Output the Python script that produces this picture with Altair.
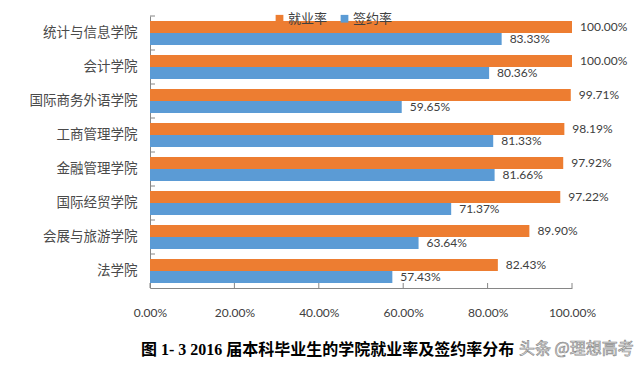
import altair as alt
import pandas as pd

colleges = ["统计与信息学院", "会计学院", "国际商务外语学院", "工商管理学院",
            "金融管理学院", "国际经贸学院", "会展与旅游学院", "法学院"]
series_names = ["就业率", "签约率"]
employment = [100.00, 100.00, 99.71, 98.19, 97.92, 97.22, 89.90, 82.43]
contract = [83.33, 80.36, 59.65, 81.33, 81.66, 71.37, 63.64, 57.43]
x_ticks = [0, 20, 40, 60, 80, 100]
colors = ["#ED7D31", "#5B9BD5"]
title_text = "图 1- 3 2016 届本科毕业生的学院就业率及签约率分布"
watermark_text = "头条 @理想高考"

rows = []
for c, e, s in zip(colleges, employment, contract):
    rows.append({"college": c, "series": series_names[0], "value": e})
    rows.append({"college": c, "series": series_names[1], "value": s})
df = pd.DataFrame(rows)
df["label"] = df["value"].map(lambda v: f"{v:.2f}%")

W, H = 422, 272
num_font = "Lato"
cjk_font = "Noto Sans CJK SC"

yscale = alt.Scale(domain=colleges, paddingInner=0, paddingOuter=0)
yoff = alt.YOffset("series:N", sort=series_names,
                   scale=alt.Scale(domain=series_names, paddingInner=0, paddingOuter=0.4167))

base = alt.Chart(df)

bars = base.mark_bar().encode(
    x=alt.X("value:Q", scale=alt.Scale(domain=[0, 100], nice=False),
            axis=alt.Axis(values=x_ticks, title=None, grid=False, ticks=False,
                          domainColor="#868686", labelPadding=19, labelFlush=False,
                          labelFont=num_font, labelFontSize=12, labelColor="#404040",
                          labelExpr="format(datum.value, '.2f') + '%'")),
    y=alt.Y("college:N", sort=colleges, scale=yscale,
            axis=alt.Axis(title=None, ticks=False, domainColor="#868686",
                          labelPadding=13, labelFont=cjk_font, labelFontSize=13.5,
                          labelColor="#4a4a4a")),
    yOffset=yoff,
    color=alt.Color("series:N", sort=series_names,
                    scale=alt.Scale(domain=series_names, range=colors),
                    legend=alt.Legend(title=None, orient="none", direction="horizontal",
                                      legendX=123, legendY=-4, symbolType="square",
                                      symbolSize=60, symbolStrokeWidth=0,
                                      labelFont=cjk_font, labelFontSize=13,
                                      labelColor="#404040", columnPadding=10,
                                      labelOffset=2)),
)

labels = base.mark_text(align="left", baseline="middle", dx=8,
                        font=num_font, fontSize=12, color="#404040").encode(
    x="value:Q",
    y=alt.Y("college:N", sort=colleges),
    yOffset=yoff,
    text="label:N",
)

ytick_df = pd.DataFrame({"college": colleges})
yticks = alt.Chart(ytick_df).mark_rule(color="#868686").encode(
    y=alt.Y("college:N", sort=colleges, bandPosition=0),
    x=alt.value(0), x2=alt.value(5),
)

xtick_df = pd.DataFrame({"t": x_ticks})
xticks = alt.Chart(xtick_df).mark_rule(color="#868686").encode(
    x="t:Q",
    y=alt.value(H - 5), y2=alt.value(H),
)

title = alt.Chart(pd.DataFrame({"t": [title_text]})).mark_text(
    align="left", baseline="middle", font="Liberation Serif, Noto Sans CJK SC",
    fontSize=16, fontWeight="bold", color="#000000"
).encode(text="t:N", x=alt.value(-9), y=alt.value(334))

watermark = alt.Chart(pd.DataFrame({"w": [watermark_text]})).mark_text(
    align="left", baseline="middle", font=cjk_font, fontSize=16,
    color="#ffffff", stroke="#8a8a8a", strokeWidth=0.7
).encode(text="w:N", x=alt.value(369), y=alt.value(333))

chart = alt.layer(bars, labels, yticks, xticks, title, watermark).properties(
    width=W, height=H,
    autosize=alt.AutoSizeParams(type="none"),
    padding={"left": 142, "top": 8, "right": 62, "bottom": 71},
).configure_view(stroke=None)

chart.save("out.html", embed_options={"renderer": "svg", "actions": False})
